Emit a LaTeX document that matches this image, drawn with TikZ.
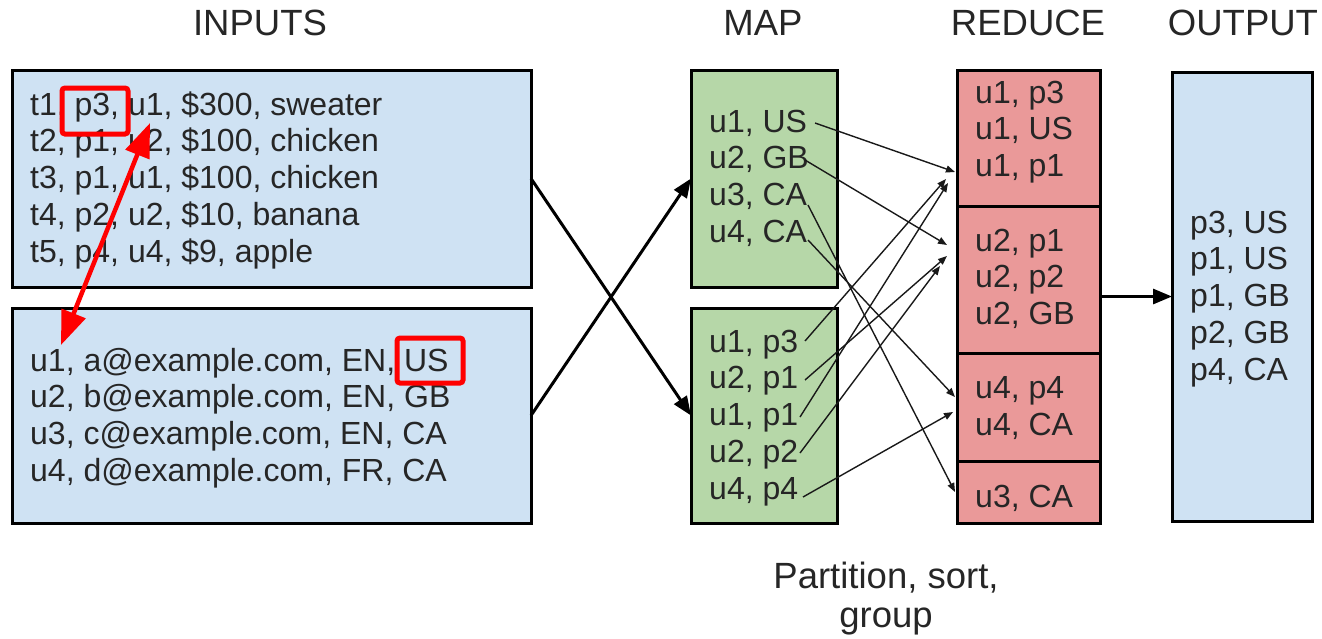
\documentclass[tikz,border=0pt]{standalone}
\usepackage{fontspec}
\setmainfont{Liberation Sans}
\usetikzlibrary{arrows.meta}
\definecolor{inblue}{HTML}{CFE2F3}
\definecolor{mapgreen}{HTML}{B6D7A8}
\definecolor{redfill}{HTML}{EA9999}
\definecolor{annot}{HTML}{FF0000}
\begin{document}
\begin{tikzpicture}[x=1pt,y=-1pt,
  box/.style={draw=black, line width=3pt, anchor=north west, inner sep=0pt, outer sep=0pt},
  bluebox/.style={box, fill=inblue},
  greenbox/.style={box, fill=mapgreen},
  redbox/.style={box, fill=redfill},
  txt/.style={font=\fontsize{32}{37}\selectfont, anchor=base west, inner sep=0pt, text=black!85},
  title/.style={font=\fontsize{36.5}{40}\selectfont, anchor=base, inner sep=0pt, text=black!85},
  hlbox/.style={draw=annot, line width=5pt, rounded corners=3pt, anchor=north west, inner sep=0pt},
  bigarrow/.style={draw=black, line width=3pt, -{Triangle[length=19pt,width=15pt]}},
  thinarrow/.style={draw=black!90, line width=1.4pt, -{Triangle[length=9pt,width=7pt]}},
  redarrow/.style={draw=annot, line width=4.5pt, {Triangle[length=34pt,width=25pt]}-{Triangle[length=34pt,width=25pt]}}
]
\useasboundingbox (0,0) rectangle (1322,638);

% titles
\node[title] (tin) at (260,35) {INPUTS};
\node[title] (tmap) at (763,35) {MAP};
\node[title] (tred) at (1028,35) {REDUCE};
\node[title] (tout) at (1243,35) {OUTPUT};

% boxes
\node[bluebox, minimum width=519pt, minimum height=217pt] (in1) at (12,70) {};
\node[bluebox, minimum width=519pt, minimum height=215pt] (in2) at (12,308) {};
\node[greenbox, minimum width=146pt, minimum height=217pt] (m1) at (691,70) {};
\node[greenbox, minimum width=146pt, minimum height=215pt] (m2) at (691,308) {};
\node[redbox, minimum width=143pt, minimum height=136pt] (r1) at (957,70) {};
\node[redbox, minimum width=143pt, minimum height=147pt] (r2) at (957,206) {};
\node[redbox, minimum width=143pt, minimum height=108pt] (r3) at (957,353) {};
\node[redbox, minimum width=143pt, minimum height=62pt] (r4) at (957,461) {};
\node[bluebox, minimum width=140pt, minimum height=449pt] (out) at (1172,72) {};

% input texts
\foreach \t [count=\i] in {{t1, p3, u1, \$300, sweater},{t2, p1, u2, \$100, chicken},{t3, p1, u1, \$100, chicken},{t4, p2, u2, \$10, banana},{t5, p4, u4, \$9, apple}}
  \node[txt] (i1-\i) at (30,{115+36.8*(\i-1)}) {\t};
\foreach \t [count=\i] in {{u1, a@example.com, EN, US},{u2, b@example.com, EN, GB},{u3, c@example.com, EN, CA},{u4, d@example.com, FR, CA}}
  \node[txt] (i2-\i) at (30,{371+36.8*(\i-1)}) {\t};

% map texts
\foreach \t [count=\i] in {{u1, US},{u2, GB},{u3, CA},{u4, CA}}
  \node[txt] (m1-\i) at (709,{132+36.8*(\i-1)}) {\t};
\foreach \t [count=\i] in {{u1, p3},{u2, p1},{u1, p1},{u2, p2},{u4, p4}}
  \node[txt] (m2-\i) at (709,{352+36.8*(\i-1)}) {\t};

% reduce texts
\foreach \t [count=\i] in {{u1, p3},{u1, US},{u1, p1}}
  \node[txt] (r1-\i) at (975,{103+36.8*(\i-1)}) {\t};
\foreach \t [count=\i] in {{u2, p1},{u2, p2},{u2, GB}}
  \node[txt] (r2-\i) at (975,{251+36.8*(\i-1)}) {\t};
\node[txt] (r3-1) at (975,398) {u4, p4};
\node[txt] (r3-2) at (975,435) {u4, CA};
\node[txt] (r4-1) at (975,507) {u3, CA};

% output texts
\foreach \t [count=\i] in {{p3, US},{p1, US},{p1, GB},{p2, GB},{p4, CA}}
  \node[txt] (o-\i) at (1190,{233+36.8*(\i-1)}) {\t};

% caption
\node[title] (cap1) at (886,588) {Partition, sort,};
\node[title] (cap2) at (886,627) {group};

% big arrows
\draw[bigarrow] (in1.east) -- (m2.west);
\draw[bigarrow] (in2.east) -- (m1.west);
\draw[bigarrow] (r2.east |- out.west) -- (out.west);

% shuffle arrows: start and end coordinates
\coordinate (s11) at (815,123);
\coordinate (s12) at (805,160);
\coordinate (s13) at (808,205);
\coordinate (s14) at (808,240);
\coordinate (s21) at (805,341);
\coordinate (s22) at (805,380);
\coordinate (s23) at (800,417);
\coordinate (s24) at (800,453);
\coordinate (s25) at (803,497);
\coordinate (e11) at (955,172);
\coordinate (e12) at (947,245);
\coordinate (e13) at (955,492);
\coordinate (e14) at (955,397);
\coordinate (e21) at (946,179);
\coordinate (e22) at (947,256);
\coordinate (e23) at (948,183);
\coordinate (e24) at (940,266);
\coordinate (e25) at (953,412);
\foreach \a/\b in {s11/e11,s12/e12,s13/e13,s14/e14,s21/e21,s22/e22,s23/e23,s24/e24,s25/e25}
  \draw[thinarrow] (\a) -- (\b);

% red highlights
\node[hlbox, minimum width=66pt, minimum height=46pt] (hl1) at (59.5,85.5) {};
\node[hlbox, minimum width=66pt, minimum height=45pt] (hl2) at (394.5,335.5) {};
\coordinate (ra) at (61,345);
\coordinate (rb) at (150,123);
\draw[redarrow] (ra) -- (rb);
\end{tikzpicture}
\end{document}
